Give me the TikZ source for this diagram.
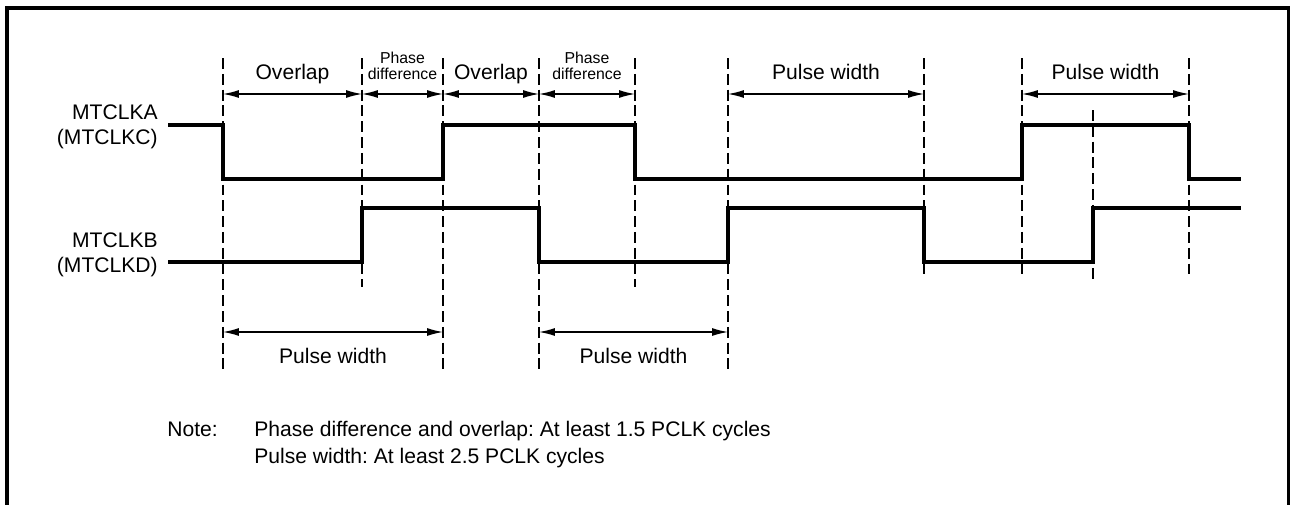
\documentclass[tikz,border=0pt]{standalone}
\usepackage{fontspec}
\setmainfont{Liberation Sans}
\usetikzlibrary{arrows.meta}
\frenchspacing

\tikzset{
  signal/.style={line width=1.8pt},
  guide/.style={line width=1.1pt, dash pattern=on 6.2pt off 2.8pt},
  dim/.style={line width=0.75pt, {Latex[length=9pt,width=4.5pt]}-{Latex[length=9pt,width=4.5pt]}},
  lbl/.style={inner sep=0pt, font=\fontsize{12}{14.2}\selectfont},
  toplbl/.style={lbl, text depth=0pt, anchor=south, yshift=0.28cm},
  botlbl/.style={lbl, anchor=base, yshift=-0.62cm},
  small/.style={inner sep=0pt, text depth=0pt, align=center, anchor=south, yshift=0.28cm, font=\fontsize{9}{9.2}\selectfont}
}

\begin{document}
\begin{tikzpicture}[x=0.02cm, y=-0.02cm]
\useasboundingbox (0,0) rectangle (1290,504);
% Frame
\draw [line width=1.9pt] (7,512) -- (7,8) -- (1289,8) -- (1289,512);

% Guide lines
\coordinate (g1) at (223,58);
\coordinate (g2) at (362,58);
\coordinate (g3) at (443,58);
\coordinate (g4) at (539,58);
\coordinate (g5) at (635,58);
\coordinate (g6) at (728,58);
\coordinate (g7) at (924,58);
\coordinate (g8) at (1022,58);
\coordinate (g9) at (1093,110);
\coordinate (g10) at (1189,58);
\coordinate (up) at (0,94);
\coordinate (down) at (0,332);

\draw [guide] (g1) -- ++(0,312);
\draw [guide] (g2) -- ++(0,229);
\draw [guide] (g3) -- ++(0,312);
\draw [guide] (g4) -- ++(0,312);
\draw [guide] (g5) -- ++(0,229);
\draw [guide] (g6) -- ++(0,312);
\draw [guide] (g7) -- ++(0,219);
\draw [guide] (g8) -- ++(0,219);
\draw [guide] (g9) -- ++(0,170);
\draw [guide] (g10) -- ++(0,219);

% MTCLKA (MTCLKC)
\node (clka) [lbl, align=right, anchor=base east] at (158,144) {MTCLKA\\(MTCLKC)};
\draw [signal] (168,125) -- (223,125) -- (223,179) -- (443,179) -- (443,125) -- (635,125) -- (635,179)
  -- (1022,179) -- (1022,125) -- (1189,125) -- (1189,179) -- (1241,179);

% MTCLKB (MTCLKD)
\node (clkb) [lbl, align=right, anchor=base east] at (158,272) {MTCLKB\\(MTCLKD)};
\draw [signal] (168,262) -- (362,262) -- (362,208) -- (539,208) -- (539,262) -- (728,262) -- (728,208)
  -- (924,208) -- (924,262) -- (1093,262) -- (1093,208) -- (1241,208);

% Top dimensions
\draw [dim] (g1 |- up) -- node (ov1) [toplbl] {Overlap} (g2 |- up);
\draw [dim] (g2 |- up) -- node (pd1) [small] {Phase\\difference} (g3 |- up);
\draw [dim] (g3 |- up) -- node (ov2) [toplbl] {Overlap} (g4 |- up);
\draw [dim] (g4 |- up) -- node (pd2) [small] {Phase\\difference} (g5 |- up);
\draw [dim] (g6 |- up) -- node (pw1) [toplbl] {Pulse width} (g7 |- up);
\draw [dim] (g8 |- up) -- node (pw2) [toplbl] {Pulse width} (g10 |- up);

% Bottom dimensions
\draw [dim] (g1 |- down) -- node (pw3) [botlbl] {Pulse width} (g3 |- down);
\draw [dim] (g4 |- down) -- node (pw4) [botlbl] {Pulse width} (g6 |- down);

% Note
\node (note) [lbl, anchor=base west] at (167,436) {Note:};
\node (notetxt) [lbl, anchor=base west, align=left, font=\fontsize{12}{15.3}\selectfont] at (254,463)
  {Phase difference and overlap: At least 1.5 PCLK cycles\\Pulse width: At least 2.5 PCLK cycles};
\end{tikzpicture}
\end{document}
